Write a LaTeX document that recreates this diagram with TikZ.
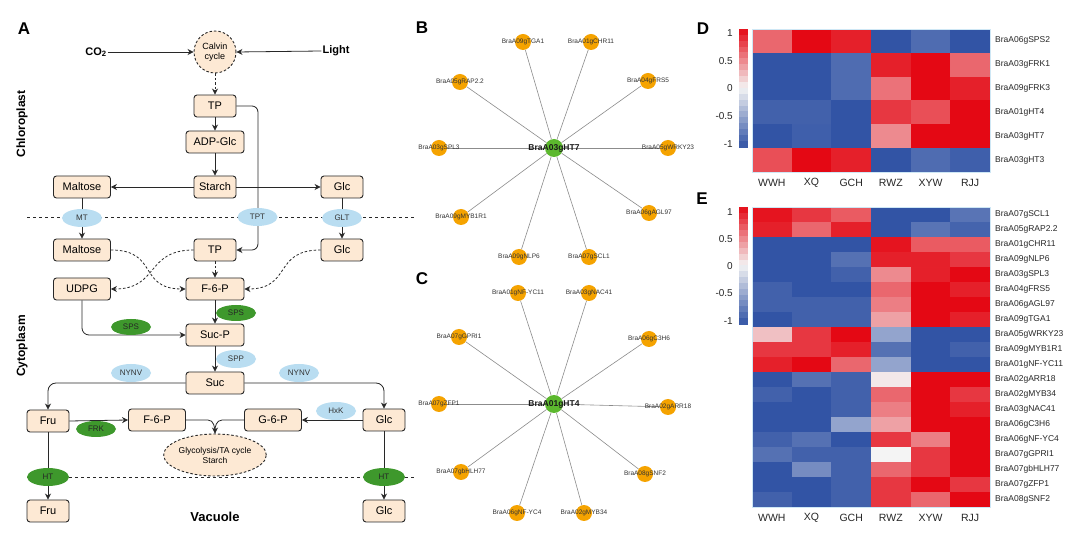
\documentclass[tikz,border=0pt]{standalone}
\usepackage{fontspec}
\setmainfont{Liberation Sans}
\usetikzlibrary{arrows.meta,shapes.geometric}
\pgfdeclarelayer{bg}
\pgfsetlayers{bg,main}
\definecolor{boxfill}{RGB}{253,233,212}
\definecolor{lblue}{RGB}{185,221,241}
\definecolor{dgreen}{RGB}{62,152,44}
\definecolor{ngreen}{RGB}{92,184,46}
\definecolor{norange}{RGB}{245,163,0}
\definecolor{hmblue}{RGB}{50,84,165}
\definecolor{hmred}{RGB}{228,8,20}
\definecolor{hmwhite}{RGB}{244,244,244}
\definecolor{linec}{RGB}{40,40,40}
\newcommand\hmcolor[1]{\pgfmathtruncatemacro\hmp{round(abs(#1)*100)}\ifdim #1pt<0pt\relax\colorlet{hmc}{hmblue!\hmp!hmwhite}\else\colorlet{hmc}{hmred!\hmp!hmwhite}\fi}
\tikzset{
 met/.style={draw=linec, fill=boxfill, rounded corners=3pt, line width=0.9pt, minimum height=22pt, inner sep=0pt, font=\fontsize{11}{11}\selectfont},
 enzb/.style={ellipse, fill=lblue, minimum width=40pt, minimum height=18pt, inner sep=0pt, font=\fontsize{8}{8}\selectfont, text=black!80},
 enzg/.style={ellipse, fill=dgreen, minimum width=40pt, minimum height=16pt, inner sep=0pt, font=\fontsize{8}{8}\selectfont, text=black!85},
 arr/.style={draw=linec, line width=0.8pt, -{Stealth[length=6pt,width=6pt]}},
 ln/.style={draw=linec, line width=0.8pt},
 dsh/.style={dash pattern=on 2.5pt off 2pt},
 memb/.style={draw=linec, line width=0.8pt, dash pattern=on 3pt off 3pt},
 nd/.style={circle, fill=norange, minimum size=16pt, inner sep=0pt},
 hub/.style={circle, fill=ngreen, minimum size=18pt, inner sep=0pt},
 nlab/.style={font=\fontsize{6.5}{6.5}\selectfont, inner sep=0pt, text=black!80},
 hlab/.style={font=\bfseries\fontsize{8.5}{8.5}\selectfont, inner sep=0pt, text=black!90},
 netedge/.style={draw=black!45, line width=0.6pt},
 plab/.style={font=\bfseries\fontsize{17}{17}\selectfont, inner sep=0pt},
 rlab/.style={font=\fontsize{8.5}{8.5}\selectfont, anchor=west, inner sep=0pt, text=black!85},
 clab/.style={font=\fontsize{10.5}{10.5}\selectfont, inner sep=0pt, text=black!85},
 tlab/.style={font=\fontsize{10}{10}\selectfont, anchor=east, inner sep=0pt, text=black!85},
 side/.style={rotate=90, font=\bfseries\fontsize{12}{12}\selectfont, inner sep=0pt},
}
\begin{document}
\begin{tikzpicture}[x=1pt,y=1pt]
\begin{pgfonlayer}{bg}
\fill[white] (0,0) rectangle (1080,536);
\end{pgfonlayer}
\useasboundingbox (0,0) rectangle (1080,536);

% ================= Panel A =================
\node[plab] (lA) at (24,507) {A};
\node[side] (chl) at (22,412) {Chloroplast};
\node[side] (cyt) at (22,190) {Cytoplasm};
\node[font=\bfseries\fontsize{13}{13}\selectfont, inner sep=0pt] (vac) at (215,19) {Vacuole};

\node[font=\bfseries\fontsize{11}{11}\selectfont, inner sep=1pt] (co2) at (96,484) {CO\textsubscript{2}};
\node[font=\bfseries\fontsize{11}{11}\selectfont, inner sep=1pt] (light) at (336,485) {Light};
\node[circle, draw=linec, dsh, line width=0.9pt, fill=boxfill, minimum size=42pt, inner sep=0pt, align=center, font=\fontsize{9}{10}\selectfont] (calvin) at (215,484) {Calvin\\cycle};

\node[met, minimum width=42pt] (TP1) at (215,430) {TP};
\node[met, minimum width=58pt] (ADP) at (215,394) {ADP-Glc};
\node[met, minimum width=42pt] (starch) at (215,349) {Starch};
\node[met, minimum width=57pt] (mal1) at (82,349) {Maltose};
\node[met, minimum width=42pt] (glc1) at (342,349) {Glc};
\node[met, minimum width=57pt] (mal2) at (82,286) {Maltose};
\node[met, minimum width=42pt] (TP2) at (215,286) {TP};
\node[met, minimum width=42pt] (glc2) at (342,286) {Glc};
\node[met, minimum width=57pt] (udpg) at (82,247) {UDPG};
\node[met, minimum width=58pt] (f6p1) at (215,247) {F-6-P};
\node[met, minimum width=58pt] (sucp) at (215,201) {Suc-P};
\node[met, minimum width=58pt] (suc) at (215,153) {Suc};
\node[met, minimum width=42pt] (fru1) at (48,115) {Fru};
\node[met, minimum width=57pt] (f6p2) at (157,116) {F-6-P};
\node[met, minimum width=57pt] (g6p) at (273,116) {G-6-P};
\node[met, minimum width=42pt] (glc3) at (384,116) {Glc};
\node[met, minimum width=42pt] (fru2) at (48,25) {Fru};
\node[met, minimum width=42pt] (glc4) at (384,25) {Glc};
\node[ellipse, draw=linec, dsh, line width=0.9pt, fill=boxfill, minimum width=94pt, minimum height=42pt, inner sep=0pt, align=center, font=\fontsize{8.5}{10}\selectfont] (glyc) at (215,81) {Glycolysis/TA cycle\\Starch};

% membranes
\coordinate (m1l) at (27,319); \coordinate (m1r) at (415,319);
\coordinate (m2l) at (27,59); \coordinate (m2r) at (415,59);
\draw[memb] (m1l) -- (m1r);
\draw[memb] (m2l) -- (m2r);

% connectors
\draw[arr] (co2.east) -- (calvin.west);
\draw[arr] (light.west) -- (calvin.east);
\draw[arr, dsh] (calvin.south) -- (TP1.north);
\draw[arr] (TP1.south) -- (ADP.north);
\draw[arr] (ADP.south) -- (starch.north);
\draw[arr] (starch.west) -- (mal1.east);
\draw[arr] (starch.east) -- (glc1.west);
\draw[arr, rounded corners=6pt] (TP1.east) -- ++(21.5,0) |- (TP2.east);
\draw[arr] (mal1.south) -- (mal2.north);
\draw[arr] (glc1.south) -- (glc2.north);
\draw[arr, dsh] (mal2.east) .. controls +(48,0) and +(-48,0) .. (f6p1.west);
\draw[arr, dsh] (TP2.west) .. controls +(-48,0) and +(48,0) .. (udpg.east);
\draw[arr, dsh] (glc2.west) .. controls +(-48,0) and +(48,0) .. (f6p1.east);
\draw[arr, dsh] (TP2.south) -- (f6p1.north);
\draw[arr] (f6p1.south) -- (sucp.north);
\draw[arr, rounded corners=7pt] (udpg.south) |- (sucp.west);
\draw[arr] (sucp.south) -- (suc.north);
\draw[arr, rounded corners=8pt] (suc.west) -| (fru1.north);
\draw[arr, rounded corners=8pt] (suc.east) -| (glc3.north);
\draw[arr] (fru1.east) -- (f6p2.west);
\draw[arr] (glc3.west) -- (g6p.east);
\draw[ln] (f6p2.east) -- ++(22,0) to[out=0,in=90] (glyc.north);
\draw[arr] (g6p.west) -- ++(-22,0) to[out=180,in=90] (glyc.north);
\draw[arr] (fru1.south) -- (fru2.north);
\draw[arr] (glc3.south) -- (glc4.north);

% enzymes
\node[enzb] (MT) at (82,318) {MT};
\node[enzb] (TPT) at (257.5,319) {TPT};
\node[enzb] (GLT) at (342,318) {GLT};
\node[enzg] (sps1) at (236,223) {SPS};
\node[enzg] (sps2) at (131,209) {SPS};
\node[enzb] (spp) at (236,177) {SPP};
\node[enzb] (nynv1) at (131,163) {NYNV};
\node[enzb] (nynv2) at (299,163) {NYNV};
\node[enzb] (hxk) at (336,125) {HxK};
\node[enzg] (frk) at (96,107) {FRK};
\node[enzg, minimum width=42pt, minimum height=18pt] (ht1) at (48,59) {HT};
\node[enzg, minimum width=42pt, minimum height=18pt] (ht2) at (384,59) {HT};

% ================= Panel B =================
\node[plab] (lB) at (422,508) {B};
\node[hub] (hB) at (554,388) {};
\foreach \n/\x/\y in {1/523/494,2/591/494,3/460/454,4/648/455,5/439/388,6/668/388,7/461/319,8/649/323,9/519/279,10/589/279}
  \node[nd] (b\n) at (\x,\y) {};
\begin{pgfonlayer}{bg}
\foreach \n in {1,...,10} \draw[netedge] (hB) -- (b\n);
\end{pgfonlayer}
\foreach \n/\t in {1/BraA09gTGA1,2/BraA01gCHR11,3/BraA05gRAP2.2,4/BraA04gFRS5,5/BraA03gSPL3,6/BraA05gWRKY23,7/BraA09gMYB1R1,8/BraA06gAGL97,9/BraA09gNLP6,10/BraA07gSCL1}
  \node[nlab] at (b\n) {\t};
\node[hlab] at (hB) {BraA03gHT7};

% ================= Panel C =================
\node[plab] (lC) at (422,257) {C};
\node[hub] (hC) at (554,132) {};
\foreach \n/\x/\y in {1/518/243,2/589/243,3/459/199,4/649/197,5/439/132,6/668/129,7/461/64,8/645/62,9/517/23,10/584/23}
  \node[nd] (c\n) at (\x,\y) {};
\begin{pgfonlayer}{bg}
\foreach \n in {1,...,10} \draw[netedge] (hC) -- (c\n);
\end{pgfonlayer}
\foreach \n/\t in {1/BraA01gNF-YC11,2/BraA03gNAC41,3/BraA07gGPRI1,4/BraA06gC3H6,5/BraA07gZFP1,6/BraA02gARR18,7/BraA07gbHLH77,8/BraA08gSNF2,9/BraA06gNF-YC4,10/BraA02gMYB34}
  \node[nlab] at (c\n) {\t};
\node[hlab] at (hC) {BraA01gHT4};

% ================= Panel D =================
\node[plab] (lD) at (703,507) {D};
\foreach \row [count=\r] in {{0.6,1,0.9,-1,-0.85,-1},{-1,-1,-0.85,0.9,1,0.6},{-1,-1,-0.85,0.55,1,0.9},{-0.92,-0.92,-1,0.8,0.7,1},{-1,-0.93,-1,0.45,1,1},{0.7,1,0.9,-1,-0.85,-0.93}}{
  \foreach \v [count=\c] in \row {
    \hmcolor{\v}
    \fill[hmc, draw=hmc, line width=0.2pt] ({752+(\c-1)*39.67},{507-\r*23.83}) rectangle ++(39.67,23.83);
  }
}
\draw[lblue!70, line width=0.6pt] (752,364) rectangle (990,507);
\foreach \g [count=\r] in {BraA06gSPS2,BraA03gFRK1,BraA09gFRK3,BraA01gHT4,BraA03gHT7,BraA03gHT3}
  \node[rlab] at (995,{507-(\r-0.5)*23.83}) {\g};
\foreach \g [count=\c] in {WWH,XQ,GCH,RWZ,XYW,RJJ}
  \node[clab] at ({752+(\c-0.5)*39.67},353) {\g};
\foreach \i in {0,...,19}{
  \pgfmathsetmacro\cv{1-(\i+0.5)/10}
  \hmcolor{\cv}
  \fill[hmc, draw=hmc, line width=0.2pt] (739,{507-(\i+1)*5.9}) rectangle ++(8,5.9);
}
\foreach \t/\yy in {1/503,0.5/475,0/448,-0.5/420,-1/392}
  \node[tlab] at (733,\yy) {\t};

% ================= Panel E =================
\node[plab] (lE) at (702,337) {E};
\foreach \row [count=\r] in {
 {0.95,0.8,0.65,-1,-1,-0.8},
 {0.9,0.6,0.9,-1,-0.8,-0.9},
 {-1,-1,-1,0.95,0.65,0.65},
 {-1,-1,-0.82,0.9,0.9,0.8},
 {-1,-1,-0.92,0.45,0.9,1},
 {-0.92,-1,-1,0.6,1,0.9},
 {-0.92,-0.92,-0.92,0.5,1,1},
 {-1,-0.92,-0.92,0.35,1,0.9},
 {0.22,0.8,1,-0.5,-1,-1},
 {0.8,0.8,0.9,-0.82,-1,-0.92},
 {0.9,1,0.6,-0.5,-1,-1},
 {-1,-0.82,-0.92,0.05,1,1},
 {-0.92,-1,-0.92,0.6,1,0.8},
 {-1,-1,-0.92,0.5,1,0.9},
 {-1,-1,-0.5,0.35,1,1},
 {-0.92,-0.82,-1,0.8,0.5,1},
 {-0.82,-0.92,-0.92,0.0,0.8,1},
 {-1,-0.65,-0.92,0.6,0.8,1},
 {-1,-1,-0.92,0.8,1,0.8},
 {-0.92,-1,-0.92,0.8,0.6,1}}{
  \foreach \v [count=\c] in \row {
    \hmcolor{\v}
    \fill[hmc, draw=hmc, line width=0.2pt] ({752+(\c-1)*39.67},{329-\r*15}) rectangle ++(39.67,15);
  }
}
\draw[lblue!70, line width=0.6pt] (752,29) rectangle (990,329);
\foreach \g [count=\r] in {BraA07gSCL1,BraA05gRAP2.2,BraA01gCHR11,BraA09gNLP6,BraA03gSPL3,BraA04gFRS5,BraA06gAGL97,BraA09gTGA1,BraA05gWRKY23,BraA09gMYB1R1,BraA01gNF-YC11,BraA02gARR18,BraA02gMYB34,BraA03gNAC41,BraA06gC3H6,BraA06gNF-YC4,BraA07gGPRI1,BraA07gbHLH77,BraA07gZFP1,BraA08gSNF2}
  \node[rlab] at (995,{329-(\r-0.5)*15}) {\g};
\foreach \g [count=\c] in {WWH,XQ,GCH,RWZ,XYW,RJJ}
  \node[clab] at ({752+(\c-0.5)*39.67},18) {\g};
\foreach \i in {0,...,19}{
  \pgfmathsetmacro\cv{1-(\i+0.5)/10}
  \hmcolor{\cv}
  \fill[hmc, draw=hmc, line width=0.2pt] (739,{329-(\i+1)*5.85}) rectangle ++(8,5.85);
}
\foreach \t/\yy in {1/324,0.5/297,0/270,-0.5/243,-1/215}
  \node[tlab] at (733,\yy) {\t};
\end{tikzpicture}
\end{document}
